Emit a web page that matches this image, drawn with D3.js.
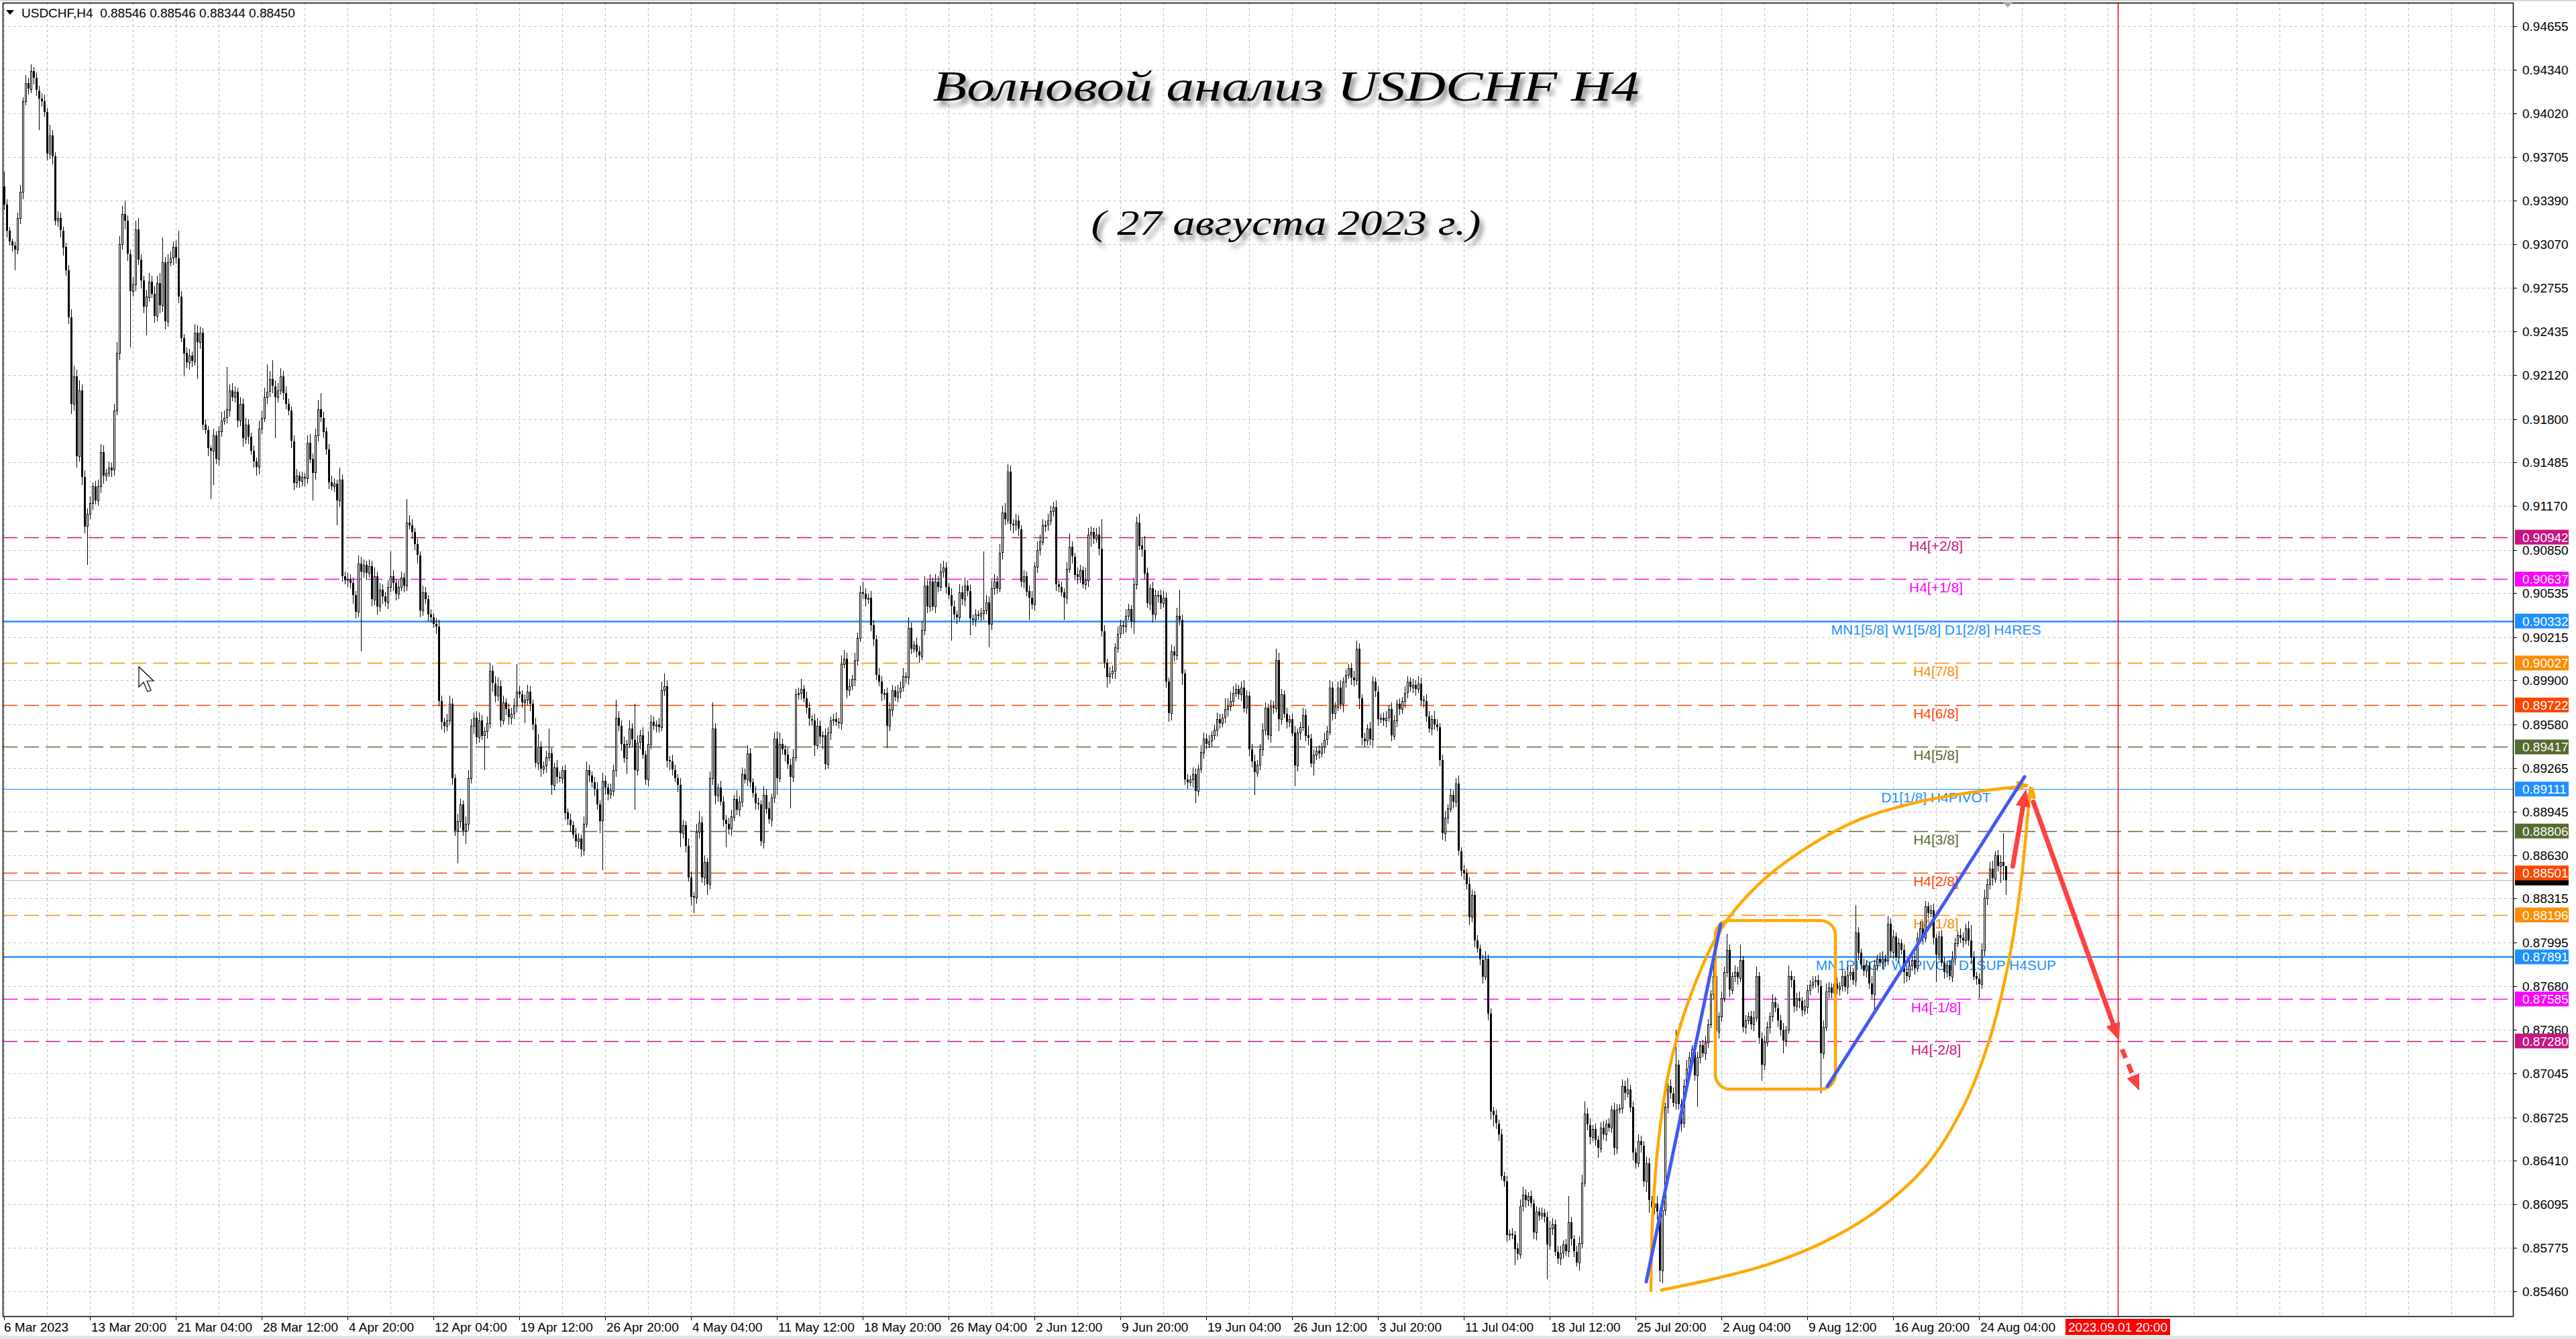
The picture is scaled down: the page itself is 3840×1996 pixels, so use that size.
<!DOCTYPE html>
<html><head><meta charset="utf-8">
<script src="https://cdn.jsdelivr.net/npm/d3@7"></script>
<style>html,body{margin:0;padding:0;background:#fff;overflow:hidden}</style>
</head><body>
<svg id="chart" width="3840" height="1996"></svg>
<script>
// ---------------- DATA ----------------
const symbol = "USDCHF,H4";
const lastBarOHLC = ["0.88546", "0.88546", "0.88344", "0.88450"];
const titleText = "Волновой анализ USDCHF H4";
const subtitleText = "( 27 августа 2023 г.)";

const priceTicks = [0.94655,0.94340,0.94020,0.93705,0.93390,0.93070,0.92755,0.92435,0.92120,0.91800,
  0.91485,0.91170,0.90850,0.90535,0.90215,0.89900,0.89580,0.89265,0.88945,0.88630,0.88315,0.87995,
  0.87680,0.87360,0.87045,0.86725,0.86410,0.86095,0.85775,0.85460];

const timeLabels = ["6 Mar 2023","13 Mar 20:00","21 Mar 04:00","28 Mar 12:00","4 Apr 20:00","12 Apr 04:00",
  "19 Apr 12:00","26 Apr 20:00","4 May 04:00","11 May 12:00","18 May 20:00","26 May 04:00","2 Jun 12:00",
  "9 Jun 20:00","19 Jun 04:00","26 Jun 12:00","3 Jul 20:00","11 Jul 04:00","18 Jul 12:00","25 Jul 20:00",
  "2 Aug 04:00","9 Aug 12:00","16 Aug 20:00","24 Aug 04:00"];
const timeLabelBars = [0,32,64,96,128,160,192,224,256,288,320,352,384,416,448,480,512,544,576,608,640,672,704,736];
const futureLabel = "2023.09.01 20:00";
const futureMarkerBar = 787.75;

// candles: prices in pips above 0.85000
const PIP_BASE = 0.85;
const firstOpenPips = 849;
const closePips = [
836,817,809,806,803,826,845,911,924,920, 933,928,919,913,911,903,873,886,871,824,
826,817,805,788,754,691,711,653,701,638, 602,611,619,631,621,631,656,639,641,645,
643,686,728,807,829,824,800,773,778,818, 796,781,762,769,780,771,755,779,763,794,
751,794,797,805,797,769,739,728,721,726, 722,743,736,743,676,672,659,657,668,651,
671,679,681,687,701,696,700,679,691,666, 676,667,657,649,645,673,681,696,700,709,
704,696,701,711,699,691,686,664,634,639, 635,638,637,663,651,641,668,687,681,671,
658,634,631,633,621,636,566,563,564,561, 552,540,575,569,574,568,573,549,566,544,
556,551,547,558,566,561,553,558,565,559, 605,603,598,589,581,541,554,549,538,536,
531,529,475,460,457,461,473,419,381,388, 400,381,386,419,457,463,449,461,450,453,
459,497,488,479,486,461,474,469,463,466, 472,482,480,474,476,482,473,458,430,442,
426,428,434,437,414,427,420,419,425,394, 389,385,378,373,375,367,386,425,421,416,
411,400,388,417,412,407,410,425,463,457, 444,434,444,455,447,425,445,450,436,418,
444,460,457,458,456,483,486,432,431,425, 419,414,379,385,370,347,333,332,380,387,
347,358,342,419,455,406,412,402,389,386, 382,391,404,396,402,422,418,437,416,408,
401,400,373,407,397,389,405,448,419,444, 440,436,429,420,434,480,481,484,477,470,
462,461,443,457,449,450,429,452,461,462, 460,459,502,506,483,486,491,505,521,554,
553,549,550,530,520,494,489,480,481,457, 469,483,478,482,485,493,492,528,513,516,
511,508,527,559,544,562,544,562,558,569, 572,558,552,544,538,536,554,549,559,555,
535,534,538,537,539,541,547,531,557,562, 557,583,612,607,642,604,603,606,600,562,
566,555,550,545,573,585,591,603,603,606, 613,616,560,558,554,550,571,587,580,567,
565,570,560,563,596,598,593,596,586,526, 503,493,495,497,514,524,530,529,537,542,
533,560,605,588,585,568,546,557,538,552, 552,546,550,489,466,511,508,537,534,495,
418,416,418,422,410,426,438,448,444,446, 450,454,462,459,463,469,471,475,481,484,
480,485,470,479,440,431,423,429,440,454, 470,450,471,470,505,462,480,466,460,462,
452,428,452,456,465,450,448,430,436,439, 437,442,447,453,485,466,471,485,473,489,
494,499,492,490,513,477,448,446,455,447, 489,482,462,463,461,463,469,450,461,473,
469,475,481,489,485,487,484,488,476,475, 464,455,462,458,456,432,379,390,397,407,
402,415,366,352,350,342,318,334,301,295, 287,275,288,248,177,174,168,160,130,126,
87,88,87,77,73,108,116,112,115,110, 89,104,101,103,100,80,92,95,75,70,
74,80,75,96,84,75,67,81,125,175, 167,158,164,156,150,165,160,168,165,178,
150,178,179,195,190,193,180,147,139,155, 152,126,139,112,107,110,104,61,105,180,
195,190,183,211,182,168,195,208,216,222, 203,216,225,219,227,240,262,275,235,246,
259,278,294,265,275,278,274,287,238,243, 246,240,245,275,230,211,227,238,246,256,
252,243,236,228,236,275,272,253,259,257, 250,253,265,269,271,272,268,219,238,264,
267,263,270,266,268,275,267,276,278,272, 307,292,283,279,283,270,262,283,288,285,
288,286,313,293,304,289,299,294,278,275, 283,287,281,303,310,303,326,321,323,303,
291,304,285,278,283,275,288,299,305,303, 301,310,301,289,275,273,269,294,332,342,
353,346,363,355,358,355,345];

const upperWickPips = [
11,4,3,2,3,4,5,3,6,4, 5,3,4,3,4,5,3,8,4,3, 5,4,3,3,4,6,8,5,7,4, 5,4,5,3,4,5,6,5,3,4,
3,5,8,6,6,10,4,3,5,6, 8,4,3,5,6,4,6,5,7,18, 4,6,5,4,5,20,4,3,4,5, 3,6,5,4,3,4,3,2,5,3,
4,6,5,31,4,5,4,3,5,4, 5,4,3,4,3,6,5,7,20,6, 14,4,5,6,4,5,4,3,4,5, 3,4,3,5,6,4,5,7,12,4,
3,4,5,4,3,9,4,3,4,3, 4,3,6,5,4,3,5,4,6,3, 5,4,3,5,18,4,3,5,4,3, 17,5,4,3,4,3,5,4,3,4,
3,4,5,4,3,5,6,4,3,5, 4,3,5,6,5,4,5,6,4,3, 5,6,4,5,6,4,5,3,4,4, 5,20,4,3,4,5,4,3,5,9,
4,3,5,18,4,3,5,4,3,4, 3,4,3,5,4,3,5,6,4,3, 4,5,3,6,4,3,5,4,13,5, 4,5,3,6,4,26,5,4,6,3,
9,5,4,3,5,6,9,4,3,5, 4,3,5,4,3,5,4,3,6,8, 4,5,3,5,19,4,3,5,4,3, 4,5,3,6,4,5,4,6,4,3,
5,4,3,6,4,5,3,4,5,8, 4,3,5,4,6,4,4,7,3,5, 4,3,5,6,4,3,5,4,3,4, 5,3,6,6,4,5,3,5,4,5,
8,4,3,5,4,3,5,4,3,4, 5,4,3,5,4,6,3,8,4,3, 5,4,6,7,4,5,3,5,4,6, 5,4,3,5,4,3,6,5,6,4,
5,3,4,3,4,43,5,4,6,5, 4,6,5,7,5,4,3,5,4,3, 4,3,4,5,3,6,5,4,3,5, 4,4,5,3,4,3,5,10,4,3,
5,4,3,9,5,4,3,5,6,21, 4,3,5,4,3,5,4,3,5,4, 3,5,4,6,5,10,4,3,5,4, 3,4,5,4,3,5,4,6,19,4,
3,4,3,5,4,3,5,4,3,4, 3,4,5,4,3,8,6,7,5,4, 3,4,5,4,3,4,5,3,4,5, 4,3,5,4,8,5,4,3,4,3,
4,5,3,4,5,4,7,3,4,3, 4,3,5,4,5,4,3,4,5,3, 4,3,4,5,6,4,3,4,3,5, 4,3,4,3,4,5,3,5,4,3,
4,3,5,4,3,4,3,5,4,3, 5,4,3,6,4,3,4,5,3,4, 3,4,6,3,4,3,5,4,3,4, 3,4,5,3,4,3,4,3,4,3,
4,3,4,3,4,5,6,4,3,4, 3,4,3,4,3,4,5,4,3,4, 5,3,4,19,4,3,4,5,6,9, 4,5,3,4,3,4,5,3,4,3,
5,4,3,5,4,8,3,4,3,5, 4,3,5,4,3,4,5,3,4,3, 4,5,4,25,3,4,5,6,4,3, 5,4,3,4,5,4,3,10,4,3,
5,4,12,4,3,5,4,11,3,4, 3,4,5,7,3,4,5,4,3,6, 4,3,4,5,3,8,4,3,4,5, 3,5,4,3,4,3,4,4,5,6,
4,3,5,4,3,5,4,6,4,3, 20,4,3,5,4,3,5,4,3,4, 5,3,6,4,5,3,4,3,4,5, 4,3,5,4,5,5,4,3,4,5,
3,4,5,4,3,4,5,4,3,5, 4,3,5,11,4,3,4,5,6,4, 5,6,3,4,5,21,0];

const lowerWickPips = [
4,5,3,4,15,3,4,5,3,4, 3,5,4,23,4,3,5,4,6,3, 4,5,6,4,5,7,5,8,4,6, 5,28,4,5,3,4,5,6,4,3,
5,4,3,5,4,6,5,41,4,5, 4,6,5,21,4,3,5,4,6,5, 6,4,3,5,4,5,3,17,4,5, 4,3,27,5,4,3,6,35,25,4,
5,4,3,4,5,3,4,5,4,6, 4,5,3,4,6,5,4,3,5,4, 5,30,4,3,5,4,3,5,6,4, 5,4,6,4,3,20,5,4,3,5,
4,5,3,4,18,5,4,3,5,4, 6,5,4,58,4,5,3,5,4,6, 4,5,3,5,4,6,5,4,3,5, 4,3,5,4,6,5,4,3,5,4,
3,5,4,6,5,4,3,5,4,24, 5,4,10,5,4,6,5,4,3,25, 5,4,6,5,4,5,3,4,5,5, 4,5,3,4,15,4,5,4,3,5,
6,4,5,3,7,4,5,3,4,5, 4,5,3,4,5,5,4,3,5,4, 5,4,9,36,5,4,3,4,5,4, 5,4,12,3,5,29,4,5,3,4,
5,4,3,5,4,3,4,5,6,4, 3,5,10,4,5,3,6,11,4,5, 4,6,8,4,5,6,4,3,5,17, 4,5,3,4,5,4,3,5,4,3,
5,4,3,5,4,3,5,4,12,3, 4,5,3,23,4,3,4,5,3,4, 5,4,8,3,5,9,4,3,5,4, 3,4,5,3,6,4,3,5,4,3,
4,5,3,4,5,4,3,5,4,16, 4,5,3,4,5,3,4,5,4,3, 4,5,3,4,5,4,3,5,4,3, 4,5,3,25,4,5,3,4,5,4,
12,4,5,3,4,5,3,17,4,5, 4,3,5,4,3,5,6,4,5,4, 5,4,16,3,4,5,4,3,5,4, 3,4,5,4,3,16,4,3,5,4,
5,4,3,4,5,9,4,3,5,4, 4,8,5,4,6,4,3,5,4,3, 5,9,4,3,5,4,3,5,6,4, 5,4,3,4,6,5,4,3,4,8,
4,5,3,6,9,4,3,5,4,3, 4,3,5,4,3,4,5,3,4,3, 4,5,3,4,5,4,16,3,4,5, 4,3,5,4,3,9,4,3,5,4,
3,15,4,5,3,4,5,3,9,4, 4,3,5,4,3,5,4,3,4,6, 4,3,5,4,3,8,5,4,3,4, 6,4,5,3,4,5,3,4,3,5,
4,3,5,4,3,4,5,3,4,5, 4,3,5,4,3,4,5,6,4,3, 5,4,3,4,5,4,6,4,5,3, 4,5,3,5,6,8,4,5,3,4,
5,4,3,12,4,3,4,5,4,3, 5,6,4,3,4,25,4,5,3,4, 5,4,3,4,5,4,3,6,4,3, 4,5,3,4,7,3,4,5,3,4,
5,4,3,4,5,3,4,6,4,3, 5,4,8,9,4,5,6,8,9,4, 5,4,3,5,4,6,3,4,5,3, 4,23,4,3,5,4,3,4,21,5,
4,3,4,5,3,4,5,3,4,5, 3,4,5,3,4,12,4,3,5,4, 3,5,4,9,4,3,5,4,3,5, 4,3,5,4,3,4,5,29,4,3,
5,4,3,4,5,4,3,5,4,3, 4,5,3,4,5,4,3,14,4,3, 5,4,3,4,5,3,4,3,8,4, 3,4,5,3,4,5,3,4,3,5,
20,4,3,5,4,3,4,5,3,4, 5,3,4,5,3,4,10,3,4,5, 4,5,3,4,12,10,11];

// Murrey / pivot levels
const levelPrices = [0.90942,0.90637,0.90332,0.90027,0.89722,0.89417,0.89111,0.88806,0.88501,0.88196,0.87891,0.87585,0.87280];
const levelNames = ["H4[+2/8]","H4[+1/8]","MN1[5/8] W1[5/8] D1[2/8] H4RES","H4[7/8]","H4[6/8]","H4[5/8]",
  "D1[1/8] H4PIVOT","H4[3/8]","H4[2/8]","H4[1/8]","MN1PIVOT W1PIVOT D1SUP H4SUP","H4[-1/8]","H4[-2/8]"];
const levelLabelBar = 720;
const bidPrice = 0.88450;

// wave-analysis drawings, in [bar index, pips above 0.85000]
const trendLines = [[[612,53],[639.75,313]], [[679.5,195],[753,420]]];
const rangeBox = {barFrom:637.75, barTo:682.5, pipsTop:315.5, pipsBottom:193};
const arcUpper = [[613.75,46.9],[614.4,100.5],[616.5,154.1],[620.6,207.4],[627.5,255.6],[639.8,309],
  [653.5,341.2],[671.35,367.9],[691.9,389.3],[712.5,401.3],[733,408.6],[753.6,413.4]];
const arcLower = [[617.6,47],[637.1,55],[657.6,65.7],[678.2,81.8],[698.8,105.9],[716.6,137.9],
  [730.3,180.7],[739.9,228.8],[746.75,282.4],[751.55,341.2],[754.3,394.7],[755.25,412]];
const forecastArrows = [[[748.6,355],[753.5,411]], [[756.25,401.8],[788.2,228.3]]];
const forecastDashed = [[[789.3,221.9],[795.75,191.9]]];

// ---------------- STYLE / LAYOUT ----------------
const W = 3840, H = 1996;
const plot = {left:4, top:4, right:3746, bottom:1962};
const FONT = "'Liberation Sans', Arial, sans-serif";
const levelColors = ["#C71585","#FF00FF","#1E90FF","#FF8C00","#FF4500","#556B2F","#1E90FF","#556B2F","#FF4500","#FF8C00","#1E90FF","#FF00FF","#C71585"];
const levelSolid = [false,false,true,false,false,false,true,false,false,false,true,false,false];
const levelWidth = [1.5,1.5,2.5,1.5,1.5,1.5,1.2,1.5,1.5,1.5,2.5,1.5,1.5];

const x = d3.scaleLinear().domain([0, 746]).range([6, 2990]);
const y = d3.scaleLinear().domain([0.85460, 0.94655]).range([1925, 39.2]);
const pp = v => PIP_BASE + v / 10000;
const X = b => x(b), Y = v => y(pp(v));

const svg = d3.select('#chart');
svg.append('rect').attr('width', W).attr('height', H).attr('fill', '#fff');
const defs = svg.append('defs');
defs.append('clipPath').attr('id','clip').append('rect')
  .attr('x', plot.left).attr('y', plot.top).attr('width', plot.right - plot.left).attr('height', plot.bottom - plot.top);
const f = defs.append('filter').attr('id','shadow').attr('x','-10%').attr('y','-30%').attr('width','120%').attr('height','170%');
f.append('feDropShadow').attr('dx',5).attr('dy',8).attr('stdDeviation',3.5).attr('flood-color','#000').attr('flood-opacity',0.45);

const g = svg.append('g').attr('clip-path','url(#clip)');

// grid
g.append('g').selectAll('line').data(priceTicks).join('line')
  .attr('x1', plot.left).attr('x2', plot.right)
  .attr('y1', d => Math.round(y(d)) + 0.5).attr('y2', d => Math.round(y(d)) + 0.5)
  .attr('stroke', '#c4c4c4').attr('stroke-width', 1.2).attr('stroke-dasharray', '4,4');
const gridBars = d3.range(0, 950, 16);
g.append('g').selectAll('line').data(gridBars).join('line')
  .attr('x1', d => Math.round(x(d)) + 0.5).attr('x2', d => Math.round(x(d)) + 0.5)
  .attr('y1', plot.top).attr('y2', plot.bottom)
  .attr('stroke', '#c4c4c4').attr('stroke-width', 1.2).attr('stroke-dasharray', '4,4');

// levels
g.append('g').selectAll('line').data(levelPrices).join('line')
  .attr('x1', plot.left).attr('x2', plot.right)
  .attr('y1', d => Math.round(y(d)) + 0.5).attr('y2', d => Math.round(y(d)) + 0.5)
  .attr('stroke', (d,i) => levelColors[i]).attr('stroke-width', (d,i) => levelWidth[i])
  .attr('stroke-dasharray', (d,i) => levelSolid[i] ? null : '22,10');
// bid line
g.append('line').attr('x1', plot.left).attr('x2', plot.right)
  .attr('y1', Math.round(y(bidPrice)) + 0.5).attr('y2', Math.round(y(bidPrice)) + 0.5)
  .attr('stroke', '#bdbdbd').attr('stroke-width', 1.2);
// level labels
g.append('g').selectAll('text').data(levelPrices).join('text')
  .attr('x', x(levelLabelBar)).attr('y', d => y(d) + 20)
  .attr('text-anchor', 'middle').attr('font-family', FONT).attr('font-size', 21)
  .attr('fill', (d,i) => levelColors[i]).text((d,i) => levelNames[i]);

// future marker
g.append('line').attr('x1', Math.round(x(futureMarkerBar)) + 0.5).attr('x2', Math.round(x(futureMarkerBar)) + 0.5)
  .attr('y1', plot.top).attr('y2', plot.bottom).attr('stroke', '#ff0000').attr('stroke-width', 1.5);

// candles
const bars = closePips.map((c, i) => {
  const o = i === 0 ? firstOpenPips : closePips[i - 1];
  const hi = Math.max(o, c) + (upperWickPips[i] || 0);
  const lo = Math.min(o, c) - (lowerWickPips[i] || 0);
  return {i, o: pp(o), c: pp(c), h: pp(hi), l: pp(lo)};
});
const cg = g.append('g').attr('shape-rendering', 'crispEdges');
cg.selectAll('line').data(bars).join('line')
  .attr('x1', d => Math.round(x(d.i)) + 0.5).attr('x2', d => Math.round(x(d.i)) + 0.5)
  .attr('y1', d => y(d.h)).attr('y2', d => y(d.l)).attr('stroke', '#000').attr('stroke-width', 1);
cg.selectAll('rect').data(bars).join('rect')
  .attr('x', d => d.c >= d.o ? Math.round(x(d.i)) - 0.5 : Math.round(x(d.i)) - 1)
  .attr('width', d => d.c >= d.o ? 2 : 3)
  .attr('y', d => Math.round(Math.min(y(d.o), y(d.c))) + (d.c >= d.o ? 0.5 : 0))
  .attr('height', d => Math.max(1, Math.round(Math.abs(y(d.o) - y(d.c)))))
  .attr('fill', d => d.c >= d.o ? '#fff' : '#000')
  .attr('stroke', d => d.c >= d.o ? '#000' : 'none').attr('stroke-width', 1);

// annotations
const ORANGE = '#FFA800', BLUE = '#4258F5', RED = '#FF4040';
const ag = g.append('g');
function head(p1, p2, len, hw, color) {
  const dx = p2[0] - p1[0], dy = p2[1] - p1[1], L = Math.hypot(dx, dy), ux = dx / L, uy = dy / L;
  const bx = p2[0] - ux * len, by = p2[1] - uy * len;
  ag.append('path').attr('d', `M${p2[0]},${p2[1]}L${bx - uy * hw},${by + ux * hw}L${bx + uy * hw},${by - ux * hw}Z`).attr('fill', color);
  return [bx + ux * 2, by + uy * 2];
}
ag.append('rect').attr('x', X(rangeBox.barFrom)).attr('y', Y(rangeBox.pipsTop))
  .attr('width', X(rangeBox.barTo) - X(rangeBox.barFrom)).attr('height', Y(rangeBox.pipsBottom) - Y(rangeBox.pipsTop))
  .attr('rx', 22).attr('fill', 'none').attr('stroke', ORANGE).attr('stroke-width', 4.5);
const arcLine = d3.line().x(d => X(d[0])).y(d => Y(d[1])).curve(d3.curveCatmullRom.alpha(0.5));
[arcUpper, arcLower].forEach(a => {
  ag.append('path').attr('d', arcLine(a)).attr('fill', 'none').attr('stroke', ORANGE).attr('stroke-width', 4.5).attr('stroke-linecap', 'round');
  const n = a.length;
  head([X(a[n - 2][0]), Y(a[n - 2][1])], [X(a[n - 1][0]) + 4, Y(a[n - 1][1]) - 2], 18, 8, ORANGE);
});
trendLines.forEach(t => {
  ag.append('line').attr('x1', X(t[0][0])).attr('y1', Y(t[0][1])).attr('x2', X(t[1][0])).attr('y2', Y(t[1][1]))
    .attr('stroke', BLUE).attr('stroke-width', 5).attr('stroke-linecap', 'round');
});
forecastArrows.forEach(a => {
  const p1 = [X(a[0][0]), Y(a[0][1])], p2 = [X(a[1][0]), Y(a[1][1])];
  const b = head(p1, p2, 26, 11, RED);
  ag.append('line').attr('x1', p1[0]).attr('y1', p1[1]).attr('x2', b[0]).attr('y2', b[1])
    .attr('stroke', RED).attr('stroke-width', 7).attr('stroke-linecap', 'round');
});
forecastDashed.forEach(a => {
  const p1 = [X(a[0][0]), Y(a[0][1])], p2 = [X(a[1][0]), Y(a[1][1])];
  const b = head(p1, p2, 24, 10, RED);
  ag.append('line').attr('x1', p1[0]).attr('y1', p1[1]).attr('x2', b[0]).attr('y2', b[1])
    .attr('stroke', RED).attr('stroke-width', 7).attr('stroke-dasharray', '14,10');
});

// mouse cursor (decoration)
svg.append('path').attr('d', 'M207,994 L207,1024 L214,1017 L220,1031 L225,1029 L219,1015 L229,1015 Z')
  .attr('fill', '#fff').attr('stroke', '#000').attr('stroke-width', 1.2);

// titles
svg.append('text').attr('x', 1917).attr('y', 150).attr('text-anchor', 'middle')
  .attr('font-family', "'Liberation Serif', 'DejaVu Serif', serif").attr('font-style', 'italic')
  .attr('font-size', 64).attr('textLength', 1053).attr('lengthAdjust', 'spacingAndGlyphs')
  .attr('filter', 'url(#shadow)').attr('fill', '#000').text(titleText);
svg.append('text').attr('x', 1917).attr('y', 350).attr('text-anchor', 'middle')
  .attr('font-family', "'Liberation Serif', 'DejaVu Serif', serif").attr('font-style', 'italic')
  .attr('font-size', 52).attr('textLength', 581).attr('lengthAdjust', 'spacingAndGlyphs')
  .attr('filter', 'url(#shadow)').attr('fill', '#000').text(subtitleText);

// window top border & frame
svg.append('rect').attr('x', 0).attr('y', 0).attr('width', W).attr('height', 2).attr('fill', '#d6d6d6');
svg.append('rect').attr('x', 0).attr('y', 1991).attr('width', W).attr('height', 5).attr('fill', '#e4e4e4');
svg.append('rect').attr('x', plot.left + 0.5).attr('y', plot.top + 0.5)
  .attr('width', plot.right - plot.left).attr('height', plot.bottom - plot.top)
  .attr('fill', 'none').attr('stroke', '#000').attr('stroke-width', 1.5);
svg.append('path').attr('d', 'M2986,4 L3000,4 L2993,11 Z').attr('fill', '#a8a8a8');

// header
svg.append('path').attr('d', 'M9,15 L21,15 L15,22 Z').attr('fill', '#000');
svg.append('text').attr('x', 32).attr('y', 26).attr('font-family', FONT).attr('font-size', 19).attr('fill', '#000')
  .attr('xml:space', 'preserve').text(symbol + '  ' + lastBarOHLC.join(' '));

// price axis
const ax = svg.append('g');
ax.selectAll('line').data(priceTicks).join('line')
  .attr('x1', plot.right).attr('x2', plot.right + 6)
  .attr('y1', d => Math.round(y(d)) + 0.5).attr('y2', d => Math.round(y(d)) + 0.5).attr('stroke', '#000');
ax.selectAll('text').data(priceTicks).join('text')
  .attr('x', 3760).attr('y', d => y(d) + 7).attr('font-family', FONT).attr('font-size', 19).attr('fill', '#000')
  .text(d => d.toFixed(5));
// bid marker (mostly hidden behind the H4[2/8] box, as in the terminal)
const bg = svg.append('g');
bg.append('rect').attr('x', 3749).attr('y', y(bidPrice) - 8).attr('width', 80).attr('height', 16).attr('fill', '#000');
levelPrices.forEach((p, i) => {
  bg.append('rect').attr('x', 3749).attr('y', y(p) - 11).attr('width', 80).attr('height', 22).attr('fill', levelColors[i]);
  bg.append('text').attr('x', 3760).attr('y', y(p) + 7).attr('font-family', FONT).attr('font-size', 19)
    .attr('fill', '#fff').text(p.toFixed(5));
});

// time axis
const tx = svg.append('g');
tx.selectAll('line').data(timeLabelBars).join('line')
  .attr('x1', d => Math.round(x(d)) + 0.5).attr('x2', d => Math.round(x(d)) + 0.5)
  .attr('y1', plot.bottom).attr('y2', plot.bottom + 6).attr('stroke', '#000');
tx.selectAll('text').data(timeLabels).join('text')
  .attr('x', (d, i) => i === 0 ? 6 : x(timeLabelBars[i]) + 2).attr('y', 1985)
  .attr('font-family', FONT).attr('font-size', 19).attr('fill', '#000').text(d => d);
const fx = x(futureMarkerBar);
tx.append('rect').attr('x', fx - 78).attr('y', 1966).attr('width', 156).attr('height', 24).attr('fill', '#ff0000');
tx.append('text').attr('x', fx).attr('y', 1985).attr('text-anchor', 'middle').attr('font-family', FONT)
  .attr('font-size', 19).attr('fill', '#fff').text(futureLabel);
</script>
</body></html>
